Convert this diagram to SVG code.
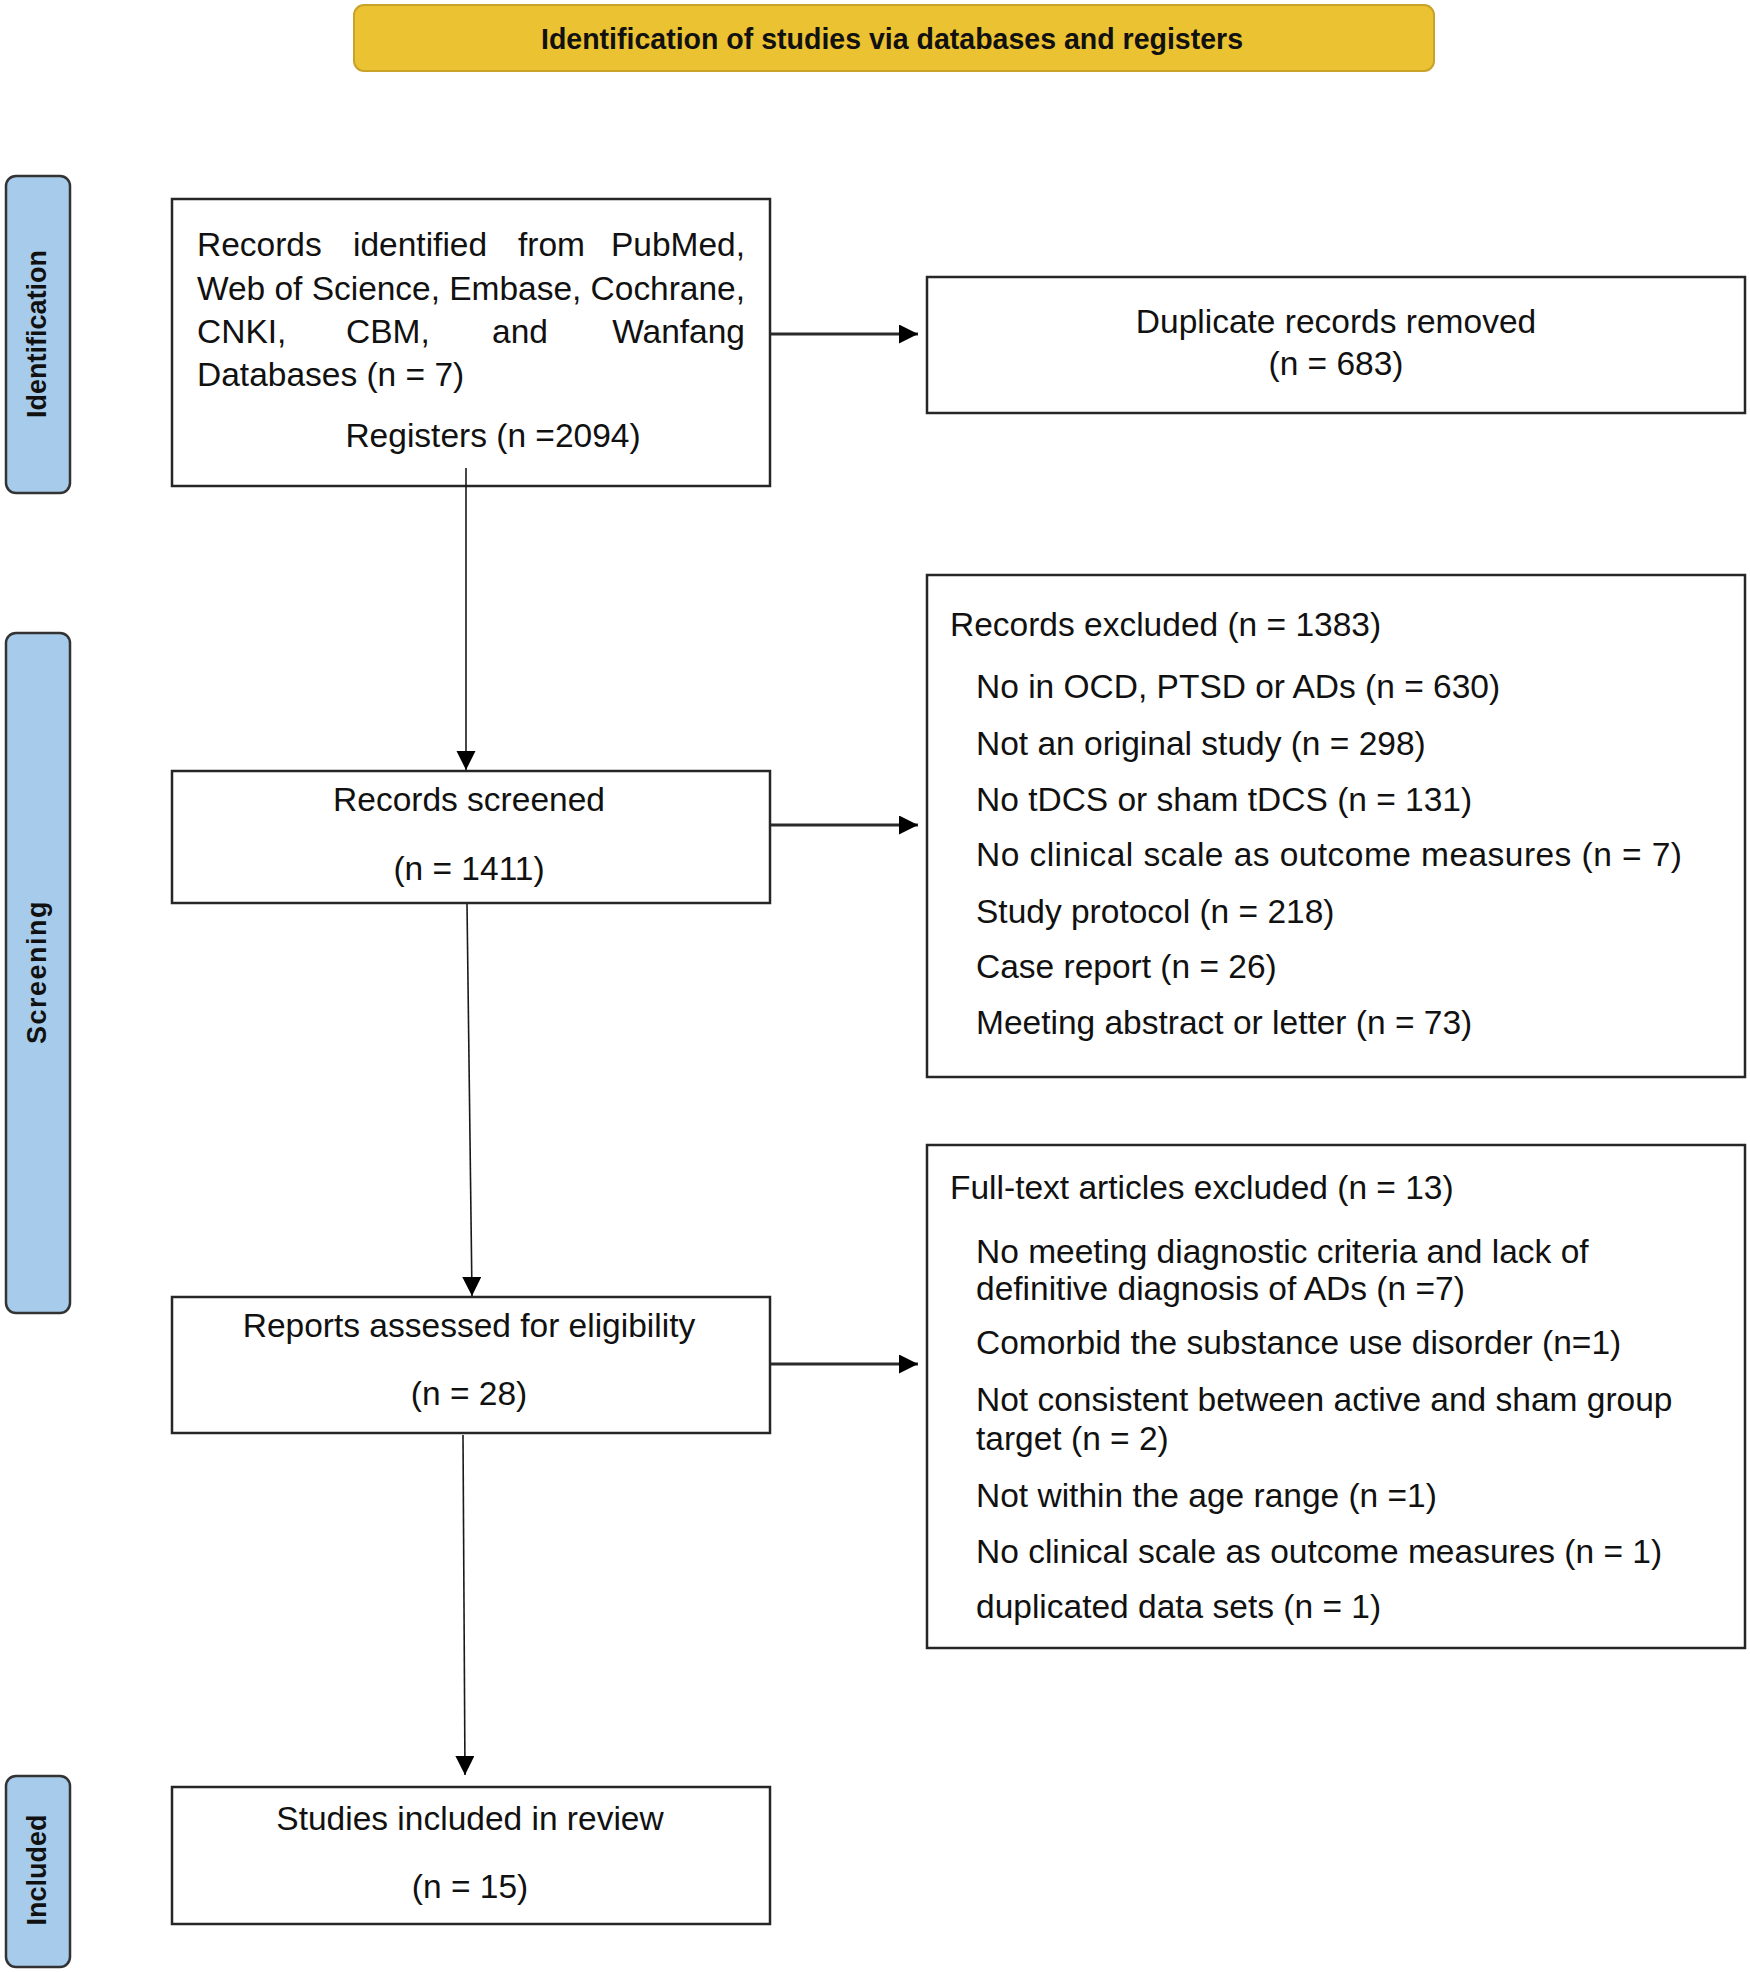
<svg xmlns="http://www.w3.org/2000/svg" width="1750" height="1972" viewBox="0 0 1750 1972">
<style>
.box{fill:#ffffff;stroke:#262626;stroke-width:2.5}
.side{fill:#a7cbea;stroke:#333333;stroke-width:2.5}
.t{font-family:"Liberation Sans",Arial,sans-serif;font-size:33.5px;fill:#111111}
.c{text-anchor:middle}
.e{text-anchor:end}
.lab{font-family:"Liberation Sans",Arial,sans-serif;font-size:27px;font-weight:bold;fill:#111111;text-anchor:middle}
.title{font-family:"Liberation Sans Narrow","Liberation Sans",Arial,sans-serif;font-size:30px;font-weight:bold;fill:#111111;text-anchor:middle}
.v{fill:none;stroke:#1a1a1a;stroke-width:1.6}
.h{fill:none;stroke:#2a2a2a;stroke-width:2.8}
</style>
<defs>
<marker id="ah" markerUnits="userSpaceOnUse" markerWidth="20" markerHeight="20" refX="19" refY="9.5" orient="auto" viewBox="0 0 20 20">
<path d="M0,0 L19,9.5 L0,19 z" fill="#000000"/>
</marker>
</defs>
<rect width="1750" height="1972" fill="#ffffff"/>

<g id="header">
<rect x="354" y="5" width="1080" height="66" rx="10" ry="10" fill="#ebc232" stroke="#c9a229" stroke-width="2"/>
<text class="title" x="892" y="49" textLength="702" lengthAdjust="spacingAndGlyphs">Identification of studies via databases and registers</text>
</g>

<g id="label-identification">
<rect class="side" x="6" y="176" width="64" height="317" rx="10" ry="10"/>
<text class="lab" transform="translate(46,334) rotate(-90)">Identification</text>
</g>
<g id="label-screening">
<rect class="side" x="6" y="633" width="64" height="680" rx="10" ry="10"/>
<text class="lab" transform="translate(46,972) rotate(-90)" letter-spacing="1.5">Screening</text>
</g>
<g id="label-included">
<rect class="side" x="6" y="1776" width="64" height="191" rx="10" ry="10"/>
<text class="lab" transform="translate(46,1870) rotate(-90)">Included</text>
</g>

<g id="records-identified">
<rect class="box" x="172" y="199" width="598" height="287"/>
<text class="t" x="197" y="256">Records</text>
<text class="t" x="353" y="256">identified</text>
<text class="t" x="518" y="256">from</text>
<text class="t e" x="745" y="256">PubMed,</text>
<text class="t" x="197" y="300" textLength="548" lengthAdjust="spacing">Web of Science, Embase, Cochrane,</text>
<text class="t" x="197" y="343">CNKI,</text>
<text class="t" x="346" y="343">CBM,</text>
<text class="t" x="492" y="343">and</text>
<text class="t e" x="745" y="343">Wanfang</text>
<text class="t" x="197" y="386">Databases (n = 7)</text>
<text class="t c" x="493" y="447">Registers (n =2094)</text>
</g>

<g id="duplicates-removed">
<rect class="box" x="927" y="277" width="818" height="136"/>
<text class="t c" x="1336" y="333">Duplicate records removed</text>
<text class="t c" x="1336" y="375">(n = 683)</text>
</g>

<g id="records-screened">
<rect class="box" x="172" y="771" width="598" height="132"/>
<text class="t c" x="469" y="811">Records screened</text>
<text class="t c" x="469" y="880">(n = 1411)</text>
</g>

<g id="records-excluded">
<rect class="box" x="927" y="575" width="818" height="502"/>
<text class="t" x="950" y="636">Records excluded (n = 1383)</text>
<text class="t" x="976" y="698">No in OCD, PTSD or ADs (n = 630)</text>
<text class="t" x="976" y="755">Not an original study (n = 298)</text>
<text class="t" x="976" y="811">No tDCS or sham tDCS (n = 131)</text>
<text class="t" x="976" y="866" textLength="706" lengthAdjust="spacing">No clinical scale as outcome measures (n = 7)</text>
<text class="t" x="976" y="923">Study protocol (n = 218)</text>
<text class="t" x="976" y="978">Case report (n = 26)</text>
<text class="t" x="976" y="1034">Meeting abstract or letter (n = 73)</text>
</g>

<g id="reports-assessed">
<rect class="box" x="172" y="1297" width="598" height="136"/>
<text class="t c" x="469" y="1337">Reports assessed for eligibility</text>
<text class="t c" x="469" y="1405">(n = 28)</text>
</g>

<g id="fulltext-excluded">
<rect class="box" x="927" y="1145" width="818" height="503"/>
<text class="t" x="950" y="1199">Full-text articles excluded (n = 13)</text>
<text class="t" x="976" y="1263">No meeting diagnostic criteria and lack of</text>
<text class="t" x="976" y="1300">definitive diagnosis of ADs (n =7)</text>
<text class="t" x="976" y="1354">Comorbid the substance use disorder (n=1)</text>
<text class="t" x="976" y="1411">Not consistent between active and sham group</text>
<text class="t" x="976" y="1450">target (n = 2)</text>
<text class="t" x="976" y="1507">Not within the age range (n =1)</text>
<text class="t" x="976" y="1563">No clinical scale as outcome measures (n = 1)</text>
<text class="t" x="976" y="1618">duplicated data sets (n = 1)</text>
</g>

<g id="studies-included">
<rect class="box" x="172" y="1787" width="598" height="137"/>
<text class="t c" x="470" y="1830">Studies included in review</text>
<text class="t c" x="470" y="1898">(n = 15)</text>
</g>

<g id="connectors">
<line class="v" x1="466" y1="468" x2="466" y2="770" marker-end="url(#ah)"/>
<line class="v" x1="467" y1="904" x2="472" y2="1296" marker-end="url(#ah)"/>
<line class="v" x1="463" y1="1435" x2="465" y2="1775" marker-end="url(#ah)"/>
<line class="h" x1="771" y1="334" x2="918" y2="334" marker-end="url(#ah)"/>
<line class="h" x1="771" y1="825" x2="918" y2="825" marker-end="url(#ah)"/>
<line class="h" x1="771" y1="1364" x2="918" y2="1364" marker-end="url(#ah)"/>
</g>
</svg>
